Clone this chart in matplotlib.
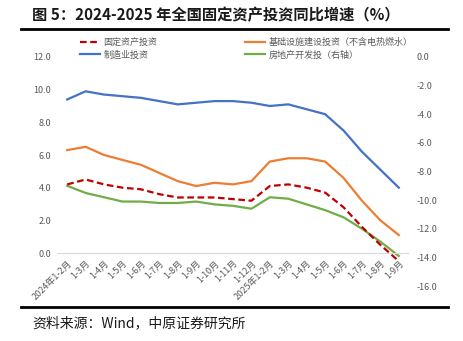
import matplotlib
matplotlib.use("Agg")
import matplotlib.pyplot as plt
from matplotlib.lines import Line2D

plt.rcParams['font.family'] = ['Noto Sans CJK SC', 'DejaVu Sans']

categories = ["2024年1-2月", "1-3月", "1-4月", "1-5月", "1-6月", "1-7月", "1-8月", "1-9月",
              "1-10月", "1-11月", "1-12月", "2025年1-2月", "1-3月", "1-4月", "1-5月",
              "1-6月", "1-7月", "1-8月", "1-9月"]
fixed_asset = [4.2, 4.5, 4.2, 4.0, 3.9, 3.6, 3.4, 3.4, 3.4, 3.3, 3.2,
               4.1, 4.2, 4.0, 3.7, 2.8, 1.6, 0.5, -0.5]
infrastructure = [6.3, 6.5, 6.0, 5.7, 5.4, 4.9, 4.4, 4.1, 4.3, 4.2, 4.4,
                  5.6, 5.8, 5.8, 5.6, 4.6, 3.2, 2.0, 1.1]
manufacturing = [9.4, 9.9, 9.7, 9.6, 9.5, 9.3, 9.1, 9.2, 9.3, 9.3, 9.2,
                 9.0, 9.1, 8.8, 8.5, 7.5, 6.2, 5.1, 4.0]
real_estate = [-9.0, -9.5, -9.8, -10.1, -10.1, -10.2, -10.2, -10.1, -10.3, -10.4, -10.6,
               -9.8, -9.9, -10.3, -10.7, -11.2, -12.0, -12.9, -13.9]
left_ticks = [0, 2, 4, 6, 8, 10, 12]
right_ticks = [0, -2, -4, -6, -8, -10, -12, -14, -16]

W, H = 464, 341
fig = plt.figure(figsize=(W / 100, H / 100), dpi=100)
ax = fig.add_axes([58 / W, 1 - 286 / H, 350 / W, 229 / H])
ax2 = ax.twinx()

x = list(range(len(categories)))
tick_col = '#595959'

l1, = ax.plot(x, fixed_asset, color='#c00000', lw=1.6, ls=(0, (3, 1.6)), label='固定资产投资')
l3, = ax.plot(x, manufacturing, color='#4472c4', lw=1.6, label='制造业投资')
l2, = ax.plot(x, infrastructure, color='#ed7d31', lw=1.6, label='基础设施建设投资（不含电热燃水）')
l4, = ax2.plot(x, real_estate, color='#70ad47', lw=1.6, label='房地产开发投（右轴）')

ax.set_zorder(ax2.get_zorder() + 1)
ax.patch.set_visible(False)

ax.set_xlim(-0.5, len(categories) - 0.5)
ax.set_ylim(-2.02, 12)
ax2.set_ylim(-16, 0)

ax.set_yticks(left_ticks)
ax.set_yticklabels([f"{v:.1f}" for v in left_ticks])
ax2.set_yticks(right_ticks)
ax2.set_yticklabels([f"{v:.1f}" for v in right_ticks])

for a in (ax, ax2):
    for s in a.spines.values():
        s.set_visible(False)
ax.spines['bottom'].set_visible(True)
ax.spines['bottom'].set_position(('data', 0))
ax.spines['bottom'].set_color('#d9d9d9')
ax.spines['bottom'].set_linewidth(0.8)

ax.tick_params(axis='y', length=0, pad=5, labelsize=6.5, labelcolor=tick_col)
ax2.tick_params(axis='y', length=0, pad=6, labelsize=6.5, labelcolor=tick_col)
ax.set_xticks(x)
ax.set_xticklabels(categories, rotation=45, ha='right', va='top', rotation_mode='anchor')
ax.tick_params(axis='x', length=0, pad=4, labelsize=6.5, labelcolor=tick_col)

leg = ax.legend(handles=[l1, l3, l2, l4], ncol=2, frameon=False, fontsize=6.5,
                loc='upper left', bbox_to_anchor=(80 / W, 1 - 38 / H),
                bbox_transform=fig.transFigure, handlelength=2.2, handletextpad=0.4,
                columnspacing=9.7, labelspacing=0.35, borderaxespad=0, borderpad=0)
for t in leg.get_texts():
    t.set_color(tick_col)

fig.text(32 / W, 1 - 15 / H, "图 5：2024-2025 年全国固定资产投资同比增速（%）",
         fontsize=11, fontweight='bold', va='center', ha='left', color='#1a1a1a')
fig.add_artist(Line2D([21 / W, 448 / W], [1 - 29 / H] * 2, color='black', lw=2))
fig.add_artist(Line2D([21 / W, 448 / W], [1 - 307 / H] * 2, color='black', lw=2))
fig.text(32 / W, 1 - 323 / H, "资料来源：Wind，中原证券研究所",
         fontsize=10, va='center', ha='left', color='#1a1a1a')

fig.savefig("out.png", dpi=100)
